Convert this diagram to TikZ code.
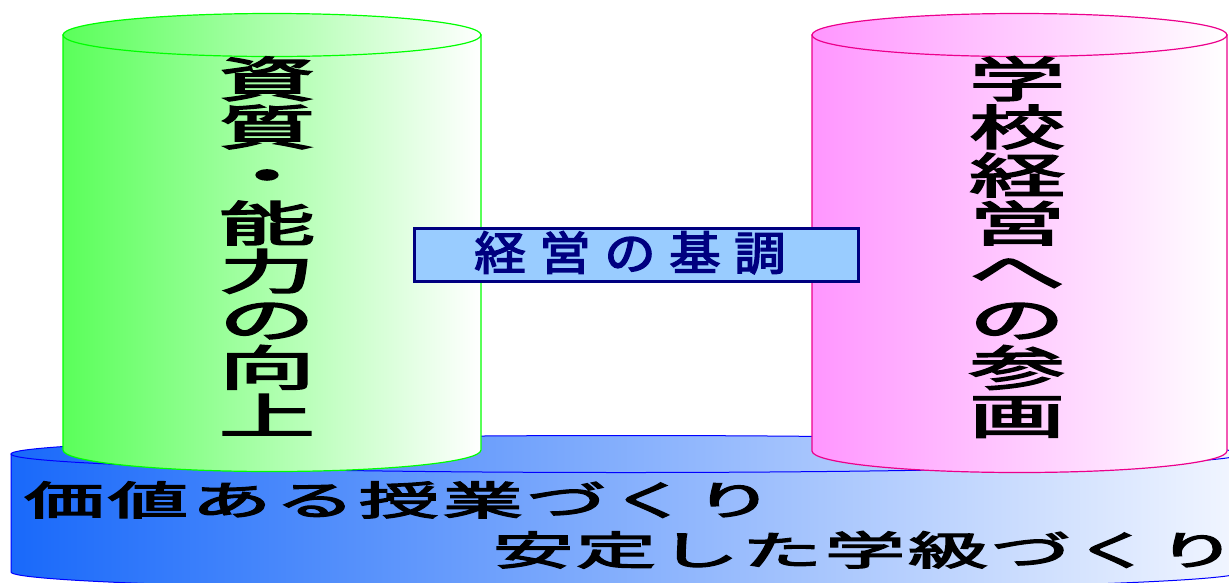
\documentclass[tikz,border=0pt]{standalone}
\usepackage{fontspec}
\newfontfamily\jp{Noto Sans CJK JP}[FakeBold=3]
\definecolor{diskblue}{RGB}{25,105,250}
\definecolor{diskwhite}{RGB}{242,246,255}
\definecolor{capgreen}{RGB}{90,255,90}
\definecolor{cappink}{RGB}{255,150,255}
\definecolor{boxfill}{RGB}{153,204,255}
\definecolor{navy}{RGB}{0,0,128}

\begin{document}
\begin{tikzpicture}[x=1pt, y=-1pt,
    colchar/.style={font=\jp\fontsize{48}{48}\selectfont, inner sep=0pt, anchor=base, xscale=2},
    rowchar/.style={font=\jp\fontsize{40}{40}\selectfont, inner sep=0pt, anchor=base, xscale=2},
    boxchar/.style={font=\jp\fontsize{46}{46}\selectfont, inner sep=0pt, anchor=base, xscale=1.12, text=navy}]
    \useasboundingbox (0,0) rectangle (1229,582);

    % base disk
    \path[left color=diskblue, right color=diskwhite, draw=blue, line width=1pt]
    (11,454) -- (11,572) arc[start angle=180, end angle=0, x radius=615, y radius=18.5] -- (1241,454) -- cycle;
    \path[left color=diskblue, right color=diskwhite, draw=blue, line width=1pt]
    (626,454) ellipse[x radius=615, y radius=18.5];

    % green cylinder
    \path[left color=capgreen, right color=white, draw=green, line width=1.2pt]
    (63,35) -- (63,450) arc[start angle=180, end angle=0, x radius=209, y radius=21.5] -- (481,35) -- cycle;
    \path[left color=capgreen, right color=white, draw=green, line width=1.2pt]
    (272,35) ellipse[x radius=209, y radius=21.5];

    % pink cylinder
    \path[left color=cappink, right color=white, draw=magenta, line width=1.2pt]
    (812,35) -- (812,451) arc[start angle=180, end angle=0, x radius=207.5, y radius=21.5] -- (1227,35) -- cycle;
    \path[left color=cappink, right color=white, draw=magenta, line width=1.2pt]
    (1019.5,35) ellipse[x radius=207.5, y radius=21.5];

    \foreach \c [count=\i from 0] in {資,質,・,能,力,の,向,上}
        \node[colchar] (g\i) at (267, {97+48.1*\i}) {\c};
    \foreach \c [count=\i from 0] in {学,校,経,営,へ,の,参,画}
        \node[colchar] (p\i) at (1017, {97+48.1*\i}) {\c};

    % centre box
    \node[draw=navy, line width=3pt, fill=boxfill, minimum width=444pt, minimum height=53pt] (kicho) at (636.5,255) {};
    \foreach \c [count=\i from 0] in {経,営,の,基,調}
        \node[boxchar] (k\i) at ({500+65*\i}, 270) {\c};

    % rows on the disk
    \foreach \c [count=\i from 0] in {価,値,あ,る,授,業,づ,く,り}
        \node[rowchar] (a\i) at ({64+83.75*\i}, 515) {\c};
    \foreach \c [count=\i from 0] in {安,定,し,た,学,級,づ,く,り}
        \node[rowchar] (b\i) at ({533+83*\i}, 565) {\c};
\end{tikzpicture}
\end{document}
